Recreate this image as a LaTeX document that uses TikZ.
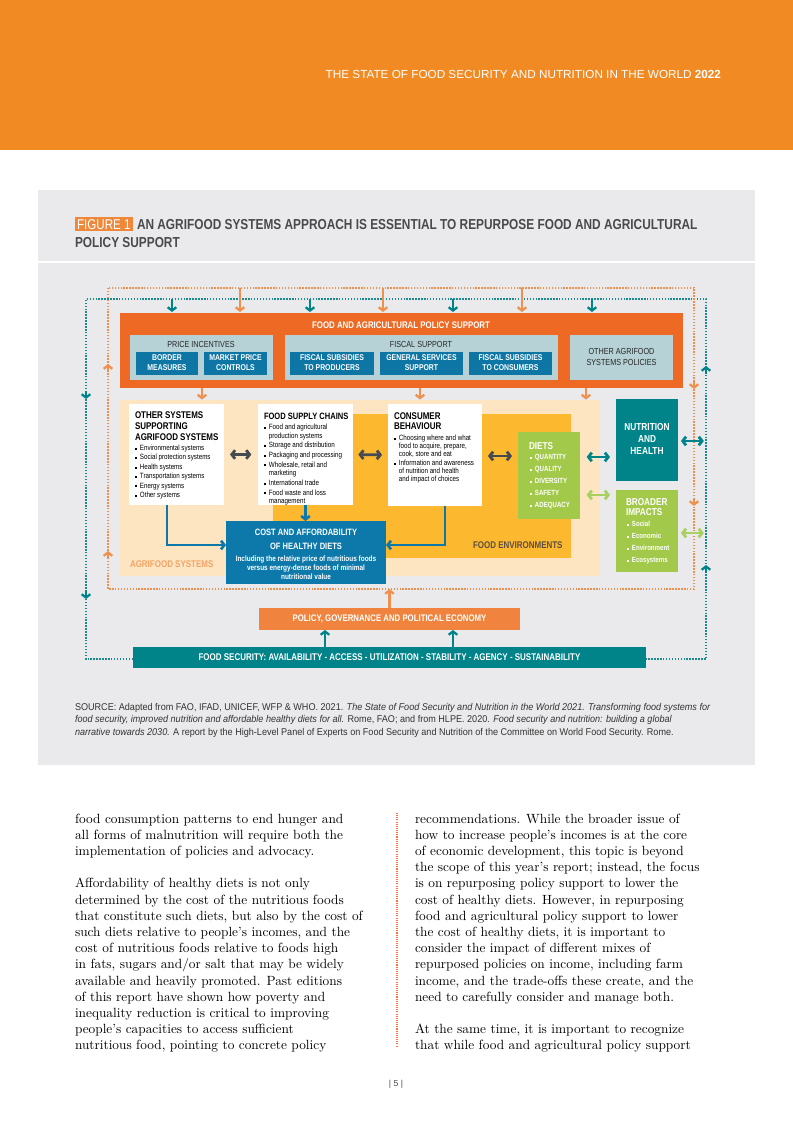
\documentclass[tikz,border=0pt]{standalone}
\usepackage{fontspec}
\setmainfont{Latin Modern Roman}
\newfontfamily\hsans{Liberation Sans}
\newfontfamily\cond[FakeStretch=0.82]{Liberation Sans}
\newfontfamily\condsrc[FakeStretch=0.92]{Liberation Sans}
\usetikzlibrary{arrows.meta}
\definecolor{hdrorange}{HTML}{F28A24}
\definecolor{panel}{HTML}{EAEAEC}
\definecolor{figorange}{HTML}{F0883A}
\definecolor{titlegrey}{HTML}{4A4A4C}
\definecolor{bigorange}{HTML}{EE6A24}
\definecolor{lightblue}{HTML}{B6D2D7}
\definecolor{boxblue}{HTML}{0D76A5}
\definecolor{peach}{HTML}{FEE5C2}
\definecolor{yellowbox}{HTML}{FCB82E}
\definecolor{dietgreen}{HTML}{A2C94A}
\definecolor{tealbox}{HTML}{00848A}
\definecolor{policyorg}{HTML}{F0843E}
\definecolor{costblue}{HTML}{0C79AA}
\definecolor{darkarr}{HTML}{454B51}
\definecolor{tealdot}{HTML}{1B8990}
\definecolor{orgdot}{HTML}{F0904E}
\definecolor{agritext}{HTML}{F3A366}
\definecolor{fenvtext}{HTML}{5C4F40}
\definecolor{lgreen}{HTML}{A8D060}
\definecolor{srcgrey}{HTML}{333333}
\newcommand{\sqb}{\raisebox{0.55pt}{\rule{1.5pt}{1.5pt}}}
\newcommand{\tl}[1]{\begin{tabular}[t]{@{}l@{}}#1\end{tabular}}
\newcommand{\tc}[1]{\begin{tabular}[t]{@{}c@{}}#1\end{tabular}}
\newcommand{\blist}[1]{\begin{tabular}[t]{@{}l@{\hspace{2.2pt}}l@{}}#1\end{tabular}}
\newcommand{\fsz}[2]{\fontsize{#1}{#2}\selectfont}
\newcommand{\bx}[7]{\node[bx,#6,minimum width={(#4-#2)*0.75pt},minimum height={(#5-#3)*0.75pt}] (#1) at ({(#2+#4)/2},{(#3+#5)/2}) {#7};}
\tikzset{chev/.tip={Straight Barb[length=2.5pt,width=6.5pt]}}
\begin{document}
\begin{tikzpicture}[x=0.75pt,y=-0.75pt,
  bx/.style={inner sep=0pt,outer sep=0pt,align=center},
  txt/.style={inner sep=0pt,outer sep=0pt},
  tdot/.style={draw=tealdot,line width=1.4pt,dash pattern=on 1.1pt off 1.1pt},
  odot/.style={draw=orgdot,line width=1.4pt,dash pattern=on 1.1pt off 1.1pt},
  tarr/.style={draw=tealbox,line width=1.7pt,-chev},
  oarr/.style={draw=orgdot,line width=1.7pt,-chev},
  barr/.style={draw=costblue,line width=2pt,-chev},
  darr/.style={draw=darkarr,line width=2.1pt,chev-chev},
  tdarr/.style={draw=tealbox,line width=2.1pt,chev-chev},
  gdarr/.style={draw=lgreen,line width=2.1pt,chev-chev},
  wlab/.style={text=white,font=\cond\bfseries\fsz{6.3}{7}},
]
\useasboundingbox (0,0) rectangle (793,1122);
\fill[white] (0,0) rectangle (793,1122);
% header
\fill[hdrorange] (0,0) rectangle (793,150);
\node[txt,anchor=base east,text=white,font=\hsans\fsz{8.8}{10}] (hdr) at (721,78) {THE STATE OF FOOD SECURITY AND NUTRITION IN THE WORLD \textbf{2022}};
% panel
\fill[panel] (38,190) rectangle (755,765);
\draw[white,line width=1.2pt] (38,262) -- (755,262);
\node[anchor=base west,fill=figorange,text=white,inner xsep=1.6pt,inner ysep=1.6pt,outer sep=0pt,font=\cond\fsz{10.6}{12}] (fig) at (75,229) {FIGURE 1};
\node[txt,anchor=base west,text=titlegrey,font=\cond\bfseries\fsz{10.85}{12}] (ttl1) at (137,229) {AN AGRIFOOD SYSTEMS APPROACH IS ESSENTIAL TO REPURPOSE FOOD AND AGRICULTURAL};
\node[txt,anchor=base west,text=titlegrey,font=\cond\bfseries\fsz{10.85}{12}] (ttl2) at (75,247) {POLICY SUPPORT};

% dotted frame corners
\coordinate (tl) at (86,299); \coordinate (tr) at (706,299);
\coordinate (bl) at (86,659); \coordinate (br) at (706,659);
\coordinate (obot) at (389,589);

% boxes
\bx{big}{120}{313}{683}{388}{fill=bigorange}{}
\bx{pi}{130}{335}{273}{380}{fill=lightblue}{}
\bx{bm}{136}{352}{198}{375}{fill=boxblue,wlab}{\tc{BORDER\\MEASURES}}
\bx{mpc}{204}{352}{267}{375}{fill=boxblue,wlab}{\tc{MARKET PRICE\\CONTROLS}}
\bx{fsup}{285}{335}{558}{380}{fill=lightblue}{}
\bx{fsp}{290}{352}{374}{375}{fill=boxblue,wlab}{\tc{FISCAL SUBSIDIES\\TO PRODUCERS}}
\bx{gss}{380}{352}{463}{375}{fill=boxblue,wlab}{\tc{GENERAL SERVICES\\SUPPORT}}
\bx{fsc}{469}{352}{552}{375}{fill=boxblue,wlab}{\tc{FISCAL SUBSIDIES\\TO CONSUMERS}}
\bx{oap}{570}{335}{673}{380}{fill=lightblue,text=black!85,font=\cond\fsz{6.6}{8.2}}{\tc{OTHER AGRIFOOD\\SYSTEMS POLICIES}}
\node[txt,anchor=base,text=white,font=\cond\bfseries\fsz{7.2}{9}] (bigt) at (401,328.5) {FOOD AND AGRICULTURAL POLICY SUPPORT};
\node[txt,anchor=base,text=black!85,font=\cond\fsz{6.6}{8}] (pit) at (201,347) {PRICE INCENTIVES};
\node[txt,anchor=base,text=black!85,font=\cond\fsz{6.6}{8}] (fst) at (421,347) {FISCAL SUPPORT};

\bx{agri}{120}{400}{600}{576}{fill=peach}{}
\bx{fenv}{273}{414}{571}{558}{fill=yellowbox}{}
\bx{osys}{129}{404}{224}{505}{fill=white}{}
\bx{supply}{258}{404}{353}{505}{fill=white}{}
\bx{cons}{388}{404}{482}{506}{fill=white}{}
\bx{diets}{518}{432}{580}{519}{fill=dietgreen}{}
\bx{nut}{616}{399}{678}{481}{fill=tealbox,text=white,font=\cond\bfseries\fsz{7.6}{9}}{\tc{NUTRITION\\AND\\HEALTH}}
\bx{broad}{616}{490}{678}{572}{fill=dietgreen}{}
\bx{cost}{226}{521}{386}{584}{fill=costblue}{}
\bx{pol}{259}{608}{520}{630}{fill=policyorg,text=white,font=\cond\bfseries\fsz{7.15}{8}}{POLICY, GOVERNANCE AND POLITICAL ECONOMY}
\bx{fs}{133}{647}{646}{668}{fill=tealbox,text=white,font=\cond\bfseries\fsz{7.3}{8}}{FOOD SECURITY: AVAILABILITY - ACCESS - UTILIZATION - STABILITY - AGENCY - SUSTAINABILITY}

% texts in boxes
\node[txt,anchor=base west,font=\cond\bfseries\fsz{7.3}{8.25}] (osyst) at (135,418) {\tl{OTHER SYSTEMS\\SUPPORTING\\AGRIFOOD SYSTEMS}};
\node[txt,anchor=base west,font=\cond\fsz{5.7}{7.05}] (osysl) at (135,450.5) {\blist{\sqb & Environmental systems\\ \sqb & Social protection systems\\ \sqb & Health systems\\ \sqb & Transportation systems\\ \sqb & Energy systems\\ \sqb & Other systems}};
\node[txt,anchor=base west,font=\cond\bfseries\fsz{6.9}{8.25}] (supt) at (264,419) {FOOD SUPPLY CHAINS};
\node[txt,anchor=base west,font=\cond\fsz{5.7}{6.6}] (supl) at (264,429.5) {\blist{\sqb & Food and agricultural\\ & production systems\\[0.6pt] \sqb & Storage and distribution\\[0.6pt] \sqb & Packaging and processing\\[0.6pt] \sqb & Wholesale, retail and\\ & marketing\\[0.6pt] \sqb & International trade\\[0.6pt] \sqb & Food waste and loss\\ & management}};
\node[txt,anchor=base west,font=\cond\bfseries\fsz{7.3}{7.8}] (const) at (394,419) {\tl{CONSUMER\\BEHAVIOUR}};
\node[txt,anchor=base west,font=\cond\fsz{5.7}{6}] (consl) at (394,440.5) {\blist{\sqb & Choosing where and what\\ & food to acquire, prepare,\\ & cook, store and eat\\[0.8pt] \sqb & Information and awareness\\ & of nutrition and health\\ & and impact of choices}};
\node[txt,anchor=base west,text=white,font=\cond\bfseries\fsz{7.5}{9}] (dietst) at (529,449) {DIETS};
\node[txt,anchor=base west,text=white,font=\cond\bfseries\fsz{5.6}{9}] (dietsl) at (530,459.5) {\blist{\sqb & QUANTITY\\ \sqb & QUALITY\\ \sqb & DIVERSITY\\ \sqb & SAFETY\\ \sqb & ADEQUACY}};
\node[txt,anchor=base west,text=white,font=\cond\bfseries\fsz{7.5}{7.8}] (broadt) at (626,505.5) {\tl{BROADER\\IMPACTS}};
\node[txt,anchor=base west,text=white,font=\cond\bfseries\fsz{5.6}{9}] (broadl) at (627,526.5) {\blist{\sqb & Social\\ \sqb & Economic\\ \sqb & Environment\\ \sqb & Ecosystems}};
\node[txt,anchor=base,text=white,font=\cond\bfseries\fsz{6.9}{11}] (costt) at (306,535) {\tc{COST AND AFFORDABILITY\\OF HEALTHY DIETS}};
\node[txt,anchor=base,text=white,font=\cond\bfseries\fsz{5.9}{7.1}] (costl) at (306,561) {\tc{Including the relative price of nutritious foods\\versus energy-dense foods of minimal\\nutritional value}};
\node[txt,anchor=base west,text=fenvtext,font=\cond\bfseries\fsz{7.3}{9}] (fenvt) at (473,548.5) {FOOD ENVIRONMENTS};
\node[txt,anchor=base west,text=agritext,font=\cond\bfseries\fsz{7.3}{9}] (agrit) at (130,567) {AGRIFOOD SYSTEMS};

% dotted frames
\draw[tdot] (fs.west |- bl) -- (bl) -- (tl) -- (tr) -- (br) -- (fs.east |- br);
\draw[odot] (108,288) rectangle (694,589);
% chevrons on frames
\draw[tarr] (86,391) -- (86,399);
\draw[tarr] (86,591) -- (86,599);
\draw[tarr] (706,374) -- (706,366);
\draw[tarr] (706,573) -- (706,565);
\draw[oarr] (108,372) -- (108,364);
\draw[oarr] (108,559) -- (108,551);
\draw[oarr] (694,381) -- (694,389);
\draw[oarr] (694,498) -- (694,506);
% top arrows
\foreach \x in {172,310,453,592} \draw[tarr] (\x,299) -- (\x,312);
\foreach \x in {240,383,522} \draw[oarr] (\x,288) -- (\x,312);
\foreach \x in {202,420,586} \draw[oarr] (\x,388) -- (\x,399.5);
% inner connectors
\draw[darr,shorten <=4.5pt,shorten >=5pt] (osys.east) -- (supply.west);
\draw[darr,shorten <=4pt,shorten >=4.5pt] (supply.east) -- (cons.west);
\draw[darr,shorten <=4.5pt,shorten >=4.5pt] ([yshift=-0.75pt]cons.east) -- ([yshift=-0.75pt]cons.east -| diets.west);
\draw[tdarr,shorten <=5pt,shorten >=4.5pt] ([yshift=13.9pt]diets.east) -- ([yshift=13.9pt]diets.east -| nut.west);
\draw[gdarr,shorten <=5pt,shorten >=4.5pt] ([yshift=-14.6pt]diets.east) -- ([yshift=-14.6pt]diets.east -| broad.west);
\draw[tdarr,shorten <=2.2pt,shorten >=1.6pt] ([yshift=-0.75pt]nut.east) -- ([yshift=-0.75pt]nut.east -| tr);
\draw[gdarr,shorten <=2.2pt,shorten >=1.6pt] ([yshift=-1.5pt]broad.east) -- ([yshift=-1.5pt]broad.east -| tr);
\draw[barr] (supply.south) -- (supply.south |- cost.north);
\draw[barr] ([xshift=-7.1pt]osys.south) |- ([yshift=5.6pt]cost.west);
\draw[barr] ([xshift=7.5pt]cons.south) |- ([yshift=5.6pt]cost.east);
\draw[oarr] (pol.north) -- (pol.north |- obot);
\draw[tarr] ([xshift=-48.4pt]fs.north) -- ([xshift=-48.4pt]fs.north |- pol.south);
\draw[tarr] ([xshift=47.6pt]fs.north) -- ([xshift=47.6pt]fs.north |- pol.south);

% source
\node[txt,anchor=base west,text=srcgrey,font=\condsrc\fsz{7.4}{9.4}] (src) at (75,710) {\tl{SOURCE: Adapted from FAO, IFAD, UNICEF, WFP \& WHO. 2021. \textit{The State of Food Security and Nutrition in the World 2021. Transforming food systems for}\\\textit{food security, improved nutrition and affordable healthy diets for all.} Rome, FAO; and from HLPE. 2020. \textit{Food security and nutrition: building a global}\\\textit{narrative towards 2030.} A report by the High-Level Panel of Experts on Food Security and Nutrition of the Committee on World Food Security. Rome.}};

% body text
\node[txt,anchor=base west,font=\fsz{10.0}{12.15}] (colL) at (75,823) {\tl{food consumption patterns to end hunger and\\all forms of malnutrition will require both the\\implementation of policies and advocacy.\\ \\Affordability of healthy diets is not only\\determined by the cost of the nutritious foods\\that constitute such diets, but also by the cost of\\such diets relative to people’s incomes, and the\\cost of nutritious foods relative to foods high\\in fats, sugars and/or salt that may be widely\\available and heavily promoted. Past editions\\of this report have shown how poverty and\\inequality reduction is critical to improving\\people’s capacities to access sufficient\\nutritious food, pointing to concrete policy}};
\node[txt,anchor=base west,font=\fsz{10.0}{12.15}] (colR) at (415,823) {\tl{recommendations. While the broader issue of\\how to increase people’s incomes is at the core\\of economic development, this topic is beyond\\the scope of this year’s report; instead, the focus\\is on repurposing policy support to lower the\\cost of healthy diets. However, in repurposing\\food and agricultural policy support to lower\\the cost of healthy diets, it is important to\\consider the impact of different mixes of\\repurposed policies on income, including farm\\income, and the trade-offs these create, and the\\need to carefully consider and manage both.\\ \\At the same time, it is important to recognize\\that while food and agricultural policy support}};
\draw[draw=orgdot!80!red,line width=0.9pt,dash pattern=on 0.8pt off 0.8pt] (397,813) -- (397,1047);
\node[txt,anchor=base,text=black!70,font=\hsans\fsz{6.5}{8}] (pg) at (396,1086) {| 5 |};
\end{tikzpicture}
\end{document}
